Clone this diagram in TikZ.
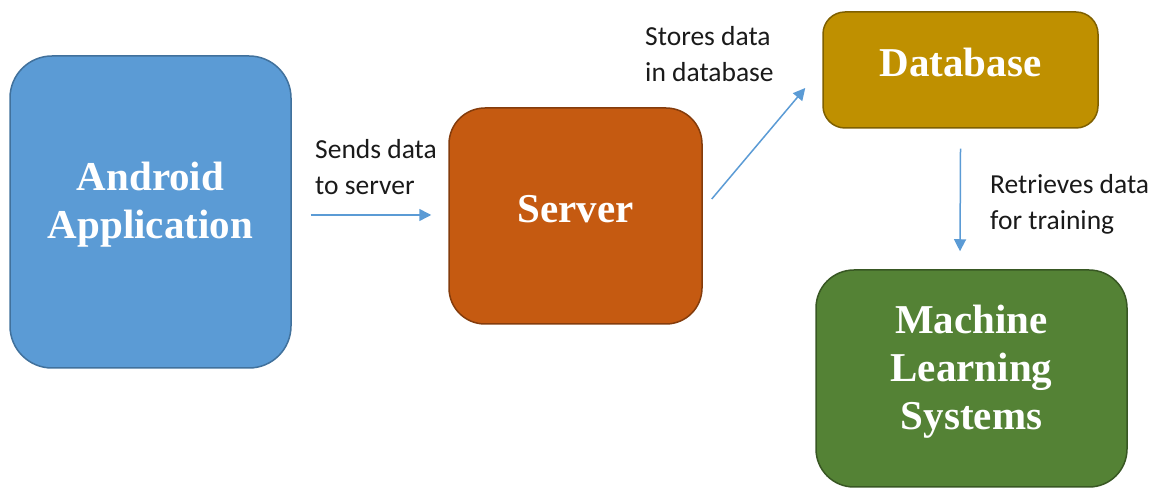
\documentclass[tikz,border=0pt]{standalone}
\usepackage{fontspec}
\setmainfont{Liberation Serif}
\newfontfamily\labfont{Carlito}
\usetikzlibrary{arrows.meta}
\definecolor{andfill}{HTML}{5B9BD5}
\definecolor{andline}{HTML}{41719C}
\definecolor{srvfill}{HTML}{C55A11}
\definecolor{srvline}{HTML}{843C0C}
\definecolor{dbfill}{HTML}{BF9000}
\definecolor{dbline}{HTML}{7F6000}
\definecolor{mlfill}{HTML}{548235}
\definecolor{mlline}{HTML}{385723}
\definecolor{arrcol}{HTML}{5B9BD5}
\definecolor{labcol}{HTML}{1A1A1A}
\tikzset{
  x=1pt, y=1pt,
  block/.style={draw, line width=1.5pt, text=white, align=center, inner sep=0pt,
    font=\fontsize{41}{48}\selectfont\bfseries},
  lab/.style={anchor=base west, align=left, inner sep=0pt, text=labcol,
    font=\labfont\fontsize{27.5}{36}\selectfont},
  arr/.style={draw=arrcol, line width=1.5pt, -{Triangle[length=12pt,width=12pt]}}
}
\begin{document}
\begin{tikzpicture}
\useasboundingbox (0,0) rectangle (1155,489);
\node[block, fill=andfill, draw=andline, minimum width=281pt, minimum height=312pt, rounded corners=42pt, text depth=23pt] (android) at (150.5,277) {Android\\Application};
\node[block, fill=srvfill, draw=srvline, minimum width=253pt, minimum height=216pt, rounded corners=36pt, text depth=15pt] (server) at (575.5,273) {Server};
\node[block, fill=dbfill, draw=dbline, minimum width=275pt, minimum height=116pt, rounded corners=22pt, text depth=15pt] (db) at (960.5,419) {Database};
\node[block, fill=mlfill, draw=mlline, minimum width=311pt, minimum height=217pt, rounded corners=38pt, text depth=22pt] (ml) at (971.5,110.5) {Machine\\Learning\\Systems};
\node[lab] (l1) at (315,294) {Sends data\\to server};
\node[lab] (l2) at (645,407) {Stores data\\in database};
\node[lab] (l3) at (990,259) {Retrieves data\\for training};
\draw[arr] ([xshift=19pt,yshift=-3pt]android.east) -- ([xshift=-17pt,yshift=1pt]server.west);
\draw[arr] ([xshift=9pt,yshift=17pt]server.east) -- ([xshift=-17pt,yshift=-18pt]db.west);
\draw[arr] ([yshift=-20pt]db.south) -- ([xshift=-11.5pt,yshift=18pt]ml.north);
\end{tikzpicture}
\end{document}
